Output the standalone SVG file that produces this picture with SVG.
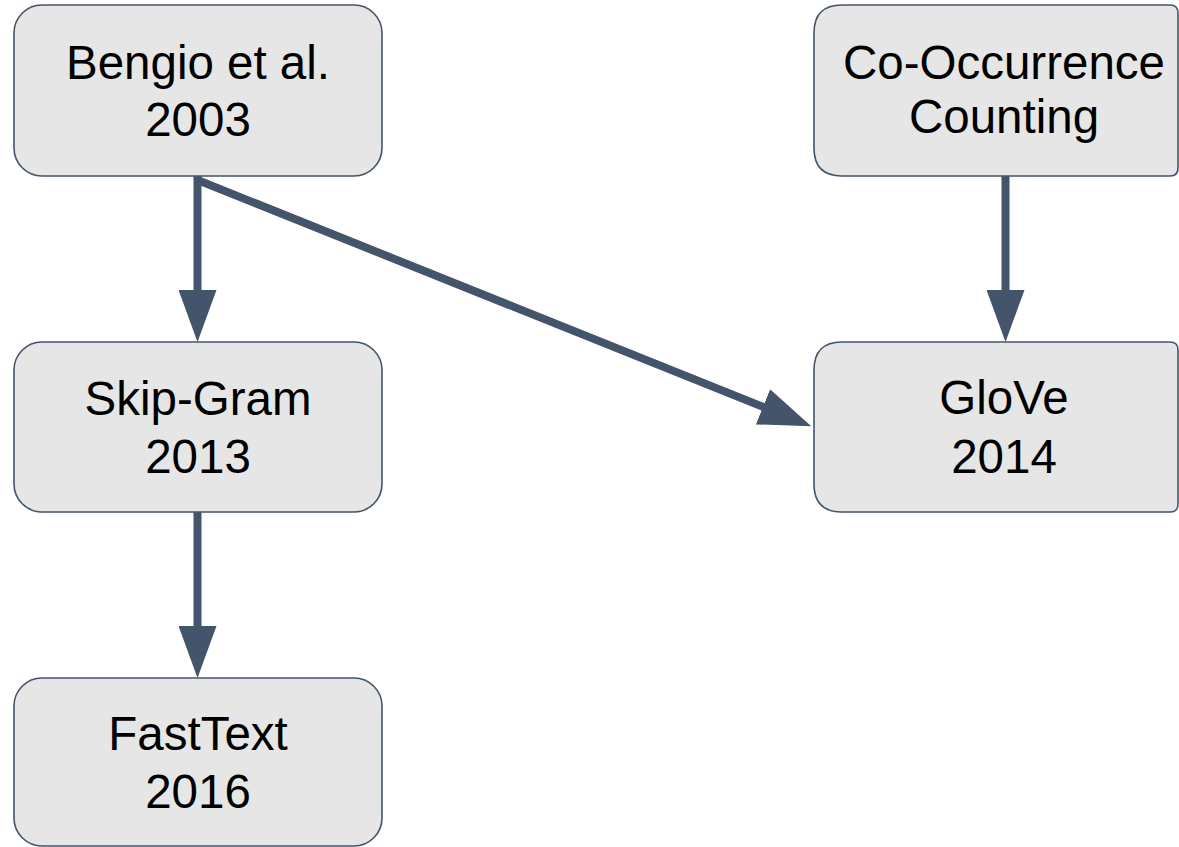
<svg xmlns="http://www.w3.org/2000/svg" width="1179" height="847" viewBox="0 0 1179 847">
  <defs>
    <marker id="head" markerUnits="userSpaceOnUse" viewBox="0 0 52 38" markerWidth="52" markerHeight="38" refX="14" refY="19" orient="auto">
      <path d="M0,0 L52,19 L0,38 Z" fill="#44546a"/>
    </marker>
    <style>
      .box { fill: #e6e6e6; stroke: #44546a; stroke-width: 1.6; }
      .label { font-family: "Liberation Sans", Arial, sans-serif; font-size: 47.5px; fill: #000000; text-anchor: middle; }
      .edge { stroke: #44546a; stroke-width: 8; fill: none; marker-end: url(#head); }
    </style>
  </defs>
  <rect width="1179" height="847" fill="#ffffff"/>

  <g id="connectors">
    <line class="edge" x1="197.5" y1="176" x2="197.5" y2="304"/>
    <line class="edge" x1="197.5" y1="180" x2="776" y2="412"/>
    <line class="edge" x1="1005.5" y1="176" x2="1005.5" y2="304"/>
    <line class="edge" x1="197.5" y1="512" x2="197.5" y2="640"/>
  </g>

  <g id="bengio">
    <rect class="box" x="14" y="5" width="368" height="171" rx="28"/>
    <text class="label" x="198" y="79">Bengio et al.</text>
    <text class="label" x="198" y="136">2003</text>
  </g>

  <g id="cooccurrence">
    <path class="box" d="M842,5 H1170 Q1178,5 1178,13 V168 Q1178,176 1170,176 H842 Q814,176 814,148 V33 Q814,5 842,5 Z"/>
    <text class="label" x="1004" y="79">Co-Occurrence</text>
    <text class="label" x="1004" y="133">Counting</text>
  </g>

  <g id="skipgram">
    <rect class="box" x="14" y="342" width="368" height="170" rx="28"/>
    <text class="label" x="198" y="415">Skip-Gram</text>
    <text class="label" x="198" y="473">2013</text>
  </g>

  <g id="glove">
    <path class="box" d="M842,342 H1170 Q1178,342 1178,350 V504 Q1178,512 1170,512 H842 Q814,512 814,484 V370 Q814,342 842,342 Z"/>
    <text class="label" x="1004" y="414">GloVe</text>
    <text class="label" x="1004" y="473">2014</text>
  </g>

  <g id="fasttext">
    <rect class="box" x="14" y="678" width="368" height="168" rx="28"/>
    <text class="label" x="198" y="750">FastText</text>
    <text class="label" x="198" y="808">2016</text>
  </g>
</svg>
